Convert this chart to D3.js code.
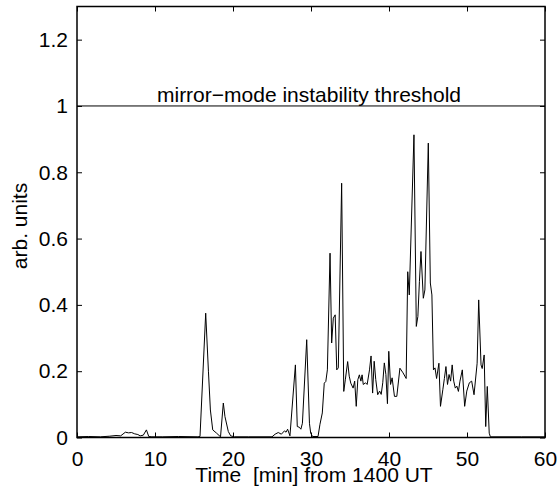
<!DOCTYPE html>
<html>
<head>
<meta charset="utf-8">
<script src="https://cdn.jsdelivr.net/npm/d3@7"></script>
<style>
  body { margin: 0; background: #fff; }
  text { font-family: "Liberation Sans", Arial, sans-serif; fill: #000; }
</style>
</head>
<body>
<div id="chart"></div>
<script>
// time in minutes from 1400 UT
const times = [
  0, 1.5, 3, 4.2, 5.0, 5.6, 6.2, 6.6, 7.0, 7.4, 7.8, 8.1, 8.5, 8.9, 9.2, 9.6, 11, 13, 15.5,
  15.77, 16.5, 16.85, 17.1, 17.4, 17.9, 18.4, 18.76, 18.97, 19.4, 19.7, 20.2, 22, 25.0,
  25.4, 25.8, 26.2, 26.6, 26.8, 27.0, 27.3, 28.0, 28.24, 28.5, 28.7, 28.9, 29.45, 29.8,
  29.96, 30.2, 30.9, 31.15, 31.45, 31.7, 31.9, 32.1, 32.44, 32.65, 32.86, 33.1, 33.3,
  33.5, 33.93, 34.2, 34.4, 34.7, 34.9, 35.1, 35.4, 35.6, 35.8, 36.0, 36.2, 36.4, 36.55,
  36.7, 37.0, 37.2, 37.5, 37.7, 37.9, 38.1, 38.3, 38.55, 38.8, 39.0, 39.2, 39.4, 39.6,
  39.8, 39.97, 40.2, 40.4, 40.7, 41.0, 41.4, 41.8, 42.2, 42.4, 42.6, 43.2, 43.5, 43.7,
  43.9, 44.1, 44.4, 44.6, 45.04, 45.3, 45.5, 45.7, 45.9, 46.1, 46.4, 46.6, 46.9, 47.1,
  47.3, 47.5, 47.7, 47.9, 48.1, 48.3, 48.5, 48.7, 48.9, 49.1, 49.4, 49.7, 49.97, 50.3,
  50.6, 50.9, 51.3, 51.5, 51.8, 51.95, 52.2, 52.4, 52.6, 52.85, 53.0, 55, 57, 60
];
const values = [
  0.002, 0.003, 0.002, 0.004, 0.006, 0.005, 0.016, 0.014, 0.015, 0.011, 0.009, 0.005, 0.007, 0.023, 0.003, 0.002, 0.002, 0.003, 0.002,
  0.003, 0.375, 0.2, 0.083, 0.023, 0.013, 0.002, 0.104, 0.063, 0.018, 0.005, 0.002, 0.002, 0.002,
  0.01, 0.015, 0.01, 0.02, 0.016, 0.025, 0.005, 0.219, 0.033, 0.031, 0.025, 0.043, 0.295, 0.043,
  0.013, 0.003, 0.003, 0.04, 0.074, 0.164, 0.169, 0.204, 0.556, 0.285, 0.36, 0.37, 0.204,
  0.21, 0.767, 0.139, 0.174, 0.229, 0.185, 0.164, 0.149, 0.17, 0.094, 0.174, 0.189, 0.17, 0.189,
  0.16, 0.165, 0.16, 0.204, 0.246, 0.134, 0.23, 0.175, 0.129, 0.14, 0.13, 0.165, 0.225, 0.19,
  0.102, 0.26, 0.16, 0.18, 0.124, 0.124, 0.209, 0.195, 0.178, 0.5, 0.43, 0.913, 0.335, 0.365,
  0.47, 0.561, 0.42, 0.445, 0.888, 0.466, 0.43, 0.204, 0.21, 0.178, 0.224, 0.094, 0.144, 0.178,
  0.214, 0.16, 0.19, 0.17, 0.219, 0.17, 0.149, 0.155, 0.139, 0.17, 0.204, 0.094, 0.14, 0.165,
  0.17, 0.129, 0.224, 0.415, 0.219, 0.208, 0.249, 0.033, 0.154, 0.013, 0.002, 0.002, 0.002, 0.002
];

const xTicks = [0, 10, 20, 30, 40, 50, 60];
const yTicks = [0, 0.2, 0.4, 0.6, 0.8, 1, 1.2];
const threshold = 1;
const thresholdLabel = "mirror\u2212mode instability threshold";

const W = 559, H = 493;
const margin = { top: 6.5, right: 14, bottom: 55.5, left: 77 };
const width = W - margin.left - margin.right;
const height = H - margin.top - margin.bottom;
const fontSize = "21px";

const svg = d3.select("#chart").append("svg")
  .attr("width", W)
  .attr("height", H);

const g = svg.append("g")
  .attr("transform", `translate(${margin.left},${margin.top})`);

const x = d3.scaleLinear().domain([0, 60]).range([0, width]);
const y = d3.scaleLinear().domain([0, 1.3]).range([height, 0]);

const fmt = d => String(d);

// axes, ticks pointing inward like matlab
g.append("g")
  .attr("transform", `translate(0,${height})`)
  .call(d3.axisBottom(x).tickValues(xTicks).tickSizeInner(-5).tickSizeOuter(0).tickPadding(14).tickFormat(fmt));
g.append("g")
  .call(d3.axisTop(x).tickValues(xTicks).tickSizeInner(-5).tickSizeOuter(0).tickFormat(""));
g.append("g")
  .call(d3.axisLeft(y).tickValues(yTicks).tickSizeInner(-5).tickSizeOuter(0).tickPadding(9).tickFormat(fmt));
g.append("g")
  .attr("transform", `translate(${width},0)`)
  .call(d3.axisRight(y).tickValues(yTicks).tickSizeInner(-5).tickSizeOuter(0).tickFormat(""));

g.selectAll(".domain").remove();
g.selectAll(".tick line").attr("stroke", "#000");
g.selectAll(".tick text").style("font-size", fontSize);

// box
g.append("rect")
  .attr("width", width)
  .attr("height", height)
  .attr("fill", "none")
  .attr("stroke", "#000")
  .attr("stroke-width", 1.5);

// threshold line
g.append("line")
  .attr("x1", x(0))
  .attr("x2", x(60))
  .attr("y1", y(threshold))
  .attr("y2", y(threshold))
  .attr("stroke", "#000");

g.append("text")
  .attr("x", x(30) - 2)
  .attr("y", y(threshold) - 4)
  .attr("text-anchor", "middle")
  .style("font-size", fontSize)
  .text(thresholdLabel);

// data
const data = times.map((t, i) => ({ t: t, v: values[i] }));
const line = d3.line().x(d => x(d.t)).y(d => y(d.v));

g.append("path")
  .datum(data)
  .attr("fill", "none")
  .attr("stroke", "#000")
  .attr("stroke-width", 1)
  .attr("d", line);

// labels
svg.append("text")
  .attr("x", margin.left + width / 2 + 3)
  .attr("y", 482)
  .attr("text-anchor", "middle")
  .style("font-size", fontSize)
  .text("Time  [min] from 1400 UT")
  .style("white-space", "pre");

svg.append("text")
  .attr("transform", `translate(27,${margin.top + height / 2 + 4}) rotate(-90)`)
  .attr("text-anchor", "middle")
  .style("font-size", fontSize)
  .text("arb. units");
</script>
</body>
</html>
